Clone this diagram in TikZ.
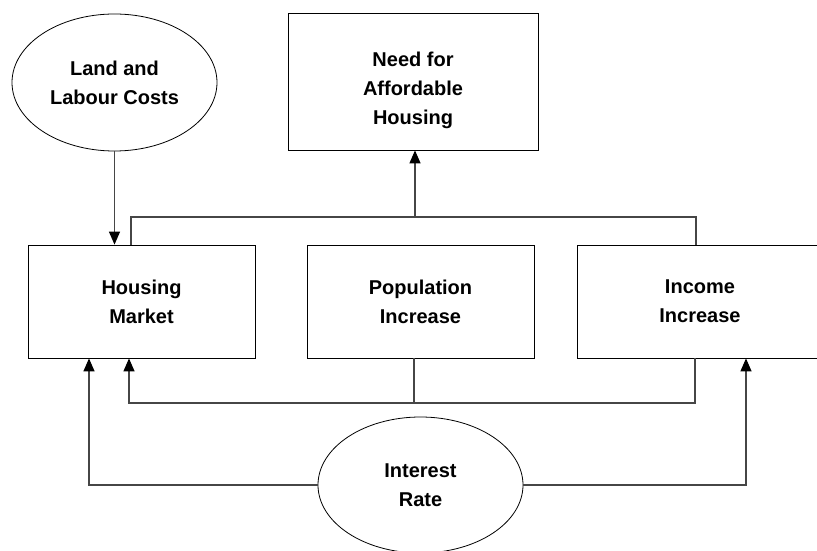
\documentclass[tikz,border=0pt]{standalone}
\usepackage{fontspec}
\setmainfont{Liberation Sans}
\usetikzlibrary{shapes.geometric,arrows.meta,calc}
\definecolor{linegray}{RGB}{70,70,70}

\begin{document}
\begin{tikzpicture}[x=1pt, y=1pt,
    every node/.style={font=\bfseries\fontsize{20}{29}\selectfont, align=center},
    factor/.style={draw, thick, ellipse, minimum width=205pt, minimum height=137pt, inner sep=0pt},
    effect/.style={draw, thick, rectangle, minimum width=227pt, minimum height=113pt, inner sep=0pt},
    link/.style={linegray, line width=1.3pt},
    >={Triangle[length=13pt, width=11pt, color=black]}]
    \useasboundingbox (0,0) rectangle (817,550);
    \clip (0,0) rectangle (817,550);
    \node[factor] (land) at (114.5,467.5) {Land and\\Labour Costs};
    \node[effect, minimum width=250pt, minimum height=137pt] (need) at (413,468.5) {\rule{0pt}{33pt}Need for\\Affordable\\Housing};
    \node[effect] (housing) at (141.5,248.5) {Housing\\Market};
    \node[effect] (population) at (420.5,248.5) {Population\\Increase};
    \node[effect, minimum width=246pt] (income) at (700,248.5) {Income\\Increase};
    \node[factor, minimum height=136pt] (interest) at (420.5,65) {Interest\\Rate};
    \coordinate (upbus) at (415,333);
    \coordinate (lowbus) at (414,147);
    \draw[link, ->] (land.south) -- (land.south |- housing.north);
    \draw[link] ([xshift=-10.5pt]housing.north) |- (upbus) -| ([xshift=-4pt]income.north);
    \draw[link, ->] (upbus) -- (upbus |- need.south);
    \draw[link] ([xshift=-6.5pt]population.south) -- (lowbus);
    \draw[link, ->] ([xshift=-5pt]income.south) |- (lowbus) -| ([xshift=-12.5pt]housing.south);
    \draw[link, ->] (interest.west) -| ([xshift=-52.5pt]housing.south);
    \draw[link, ->] (interest.east) -| ([xshift=46pt]income.south);
  \end{tikzpicture}
\end{document}
